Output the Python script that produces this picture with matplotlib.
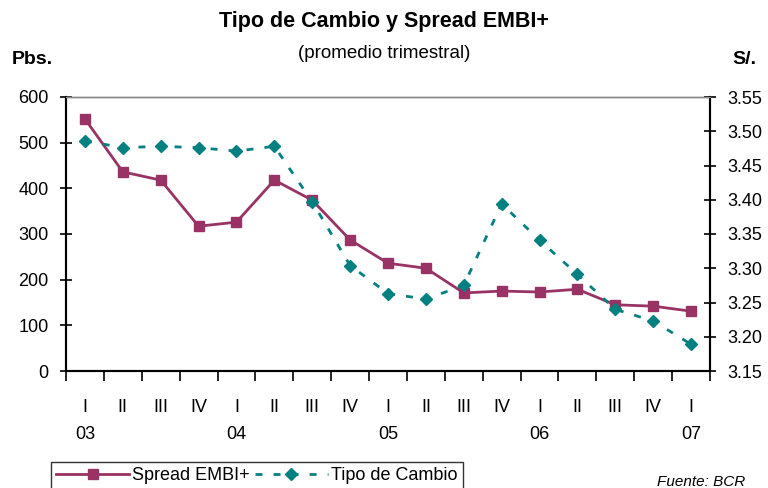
import matplotlib
matplotlib.use('Agg')
from matplotlib import pyplot as plt

plt.rcParams['font.family'] = ['Liberation Sans Narrow', 'Liberation Sans', 'DejaVu Sans']

quarters = ['I', 'II', 'III', 'IV', 'I', 'II', 'III', 'IV', 'I', 'II', 'III', 'IV',
            'I', 'II', 'III', 'IV', 'I']
years = ['03', '', '', '', '04', '', '', '', '05', '', '', '', '06', '', '', '', '07']
spread = [552, 436, 418, 317, 326, 418, 374, 287, 236, 225, 171, 175, 173, 179, 145, 142, 131]
tipo_cambio = [3.486, 3.476, 3.478, 3.476, 3.471, 3.478, 3.397, 3.304, 3.263, 3.255,
               3.275, 3.394, 3.341, 3.291, 3.240, 3.223, 3.189]

maroon = '#993366'
teal = '#008080'

fig = plt.figure(figsize=(7.68, 4.88), dpi=100)
ax = fig.add_axes([66/768, 1-371/488, 644/768, 274/488])
ax2 = ax.twinx()

n = len(spread)
x = list(range(n))

l1, = ax.plot(x, spread, color=maroon, lw=2, marker='s', ms=7, label='Spread EMBI+')
l2, = ax2.plot(x, tipo_cambio, color=teal, lw=2, ls=(0, (2.5, 4)), marker='D', ms=6,
               label='Tipo de Cambio')

ax.set_xlim(-0.5, n-0.5)
ax.set_ylim(0, 600)
ax.set_yticks(range(0, 601, 100))
ax2.set_ylim(3.15, 3.55)
ax2.set_yticks([3.15 + 0.05*i for i in range(9)])
ax2.set_yticklabels(['%.2f' % (3.15 + 0.05*i) for i in range(9)])

# tick marks at bin edges, labels at bin centers
ax.set_xticks([i - 0.5 for i in range(n+1)])
ax.set_xticklabels([])
ax.set_xticks(x, minor=True)
labels = [q + ('\n' + y if y else '') for q, y in zip(quarters, years)]
ax.set_xticklabels(labels, minor=True, linespacing=1.75)
ax.tick_params(axis='x', which='major', direction='out', length=7, width=1.2, color='black')
ax.tick_params(axis='x', which='minor', length=0, pad=20, labelsize=13)
ax.tick_params(axis='y', direction='inout', length=9, width=1.2, labelsize=13, pad=8)
ax2.tick_params(axis='y', direction='inout', length=9, width=1.2, labelsize=13, pad=8)

for a in (ax, ax2):
    a.spines['top'].set_color('#888888')
    a.spines['top'].set_linewidth(1)
    for s in ('left', 'right', 'bottom'):
        a.spines[s].set_linewidth(1.5)

fig.text(0.5, 1-22/488, 'Tipo de Cambio y Spread EMBI+', ha='center', va='center',
         fontsize=15.5, fontweight='bold')
fig.text(0.5, 1-53/488, '(promedio trimestral)', ha='center', va='center', fontsize=13.5)
fig.text(12/768, 1-59/488, 'Pbs.', ha='left', va='center', fontsize=14, fontweight='bold')
fig.text(744/768, 1-59/488, 'S/.', ha='center', va='center', fontsize=14, fontweight='bold')
fig.text(745/768, 1-482/488, 'Fuente: BCR', ha='right', va='center', fontsize=11,
         style='italic')

leg = fig.legend(handles=[l1, l2], loc='upper left', bbox_to_anchor=(42/768, 1-453/488),
                 ncol=2, frameon=True, fancybox=False, edgecolor='black', fontsize=13,
                 handlelength=4, columnspacing=0.3, handletextpad=0.2, borderpad=0.3)
leg.get_frame().set_linewidth(1)

fig.savefig('out.png', dpi=100)
